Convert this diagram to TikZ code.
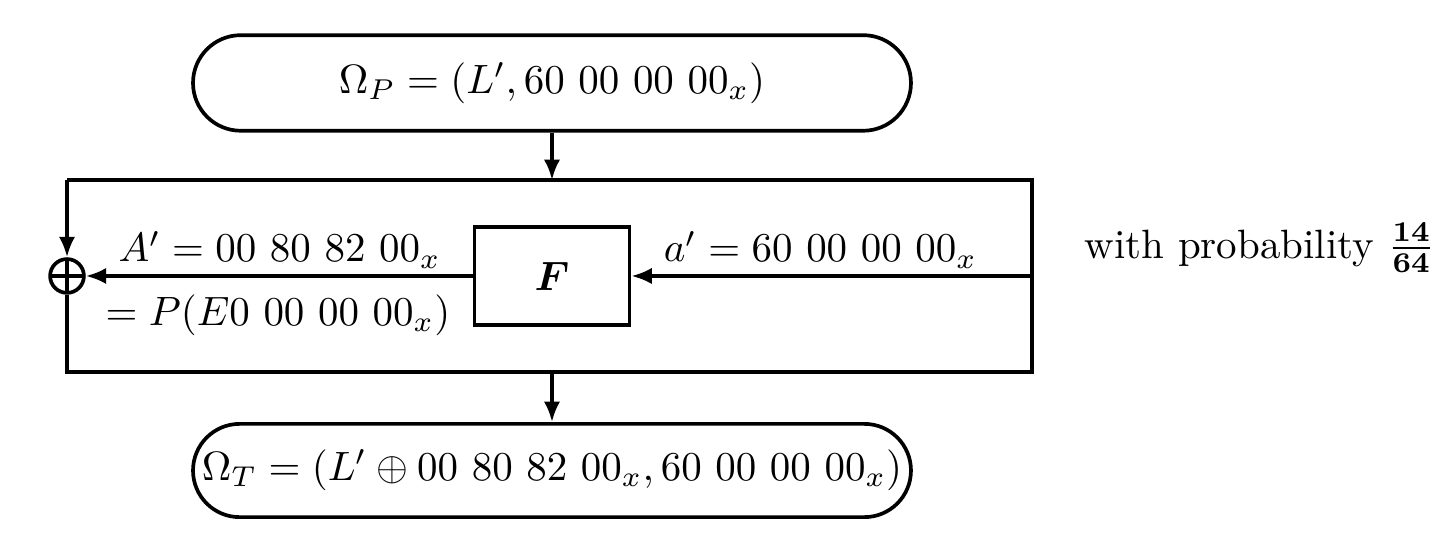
\documentclass[tikz,border=0pt]{standalone}
\usepackage{amsmath, amssymb}
\usetikzlibrary{arrows.meta}

\begin{document}
\begin{tikzpicture}
	\tikzstyle{stateStyle}=[draw, line width = 0.9pt, rectangle, rounded corners = 0.41cm, minimum width = 6.16cm, minimum height = 0.82cm, inner sep = 0pt]
	\tikzstyle{roundStyle}=[draw, line width = 0.9pt, rectangle, minimum width = 1.33cm, minimum height = 0.84cm]
	\tikzstyle{xorStyle}=[draw, line width = 0.9pt, circle, minimum size = 0.29cm, inner sep = 0pt, path picture = {\draw[line width = 0.9pt] (path picture bounding box.north) -- (path picture bounding box.south) (path picture bounding box.west) -- (path picture bounding box.east);}]
	\tikzstyle{labelStyle}=[inner sep = 0pt, anchor = base]
	\tikzstyle{arrowStyle}=[line width = 0.9pt, -{Latex[length = 5pt, width = 4pt]}]
	\useasboundingbox (0,0) rectangle (12.355,4.582);
	% states
	\node[stateStyle] (omegaP) at (4.736, 3.870) {$\Omega_P = (L', 60\ 00\ 00\ 00_x)$};
	\node[stateStyle, minimum height = 0.80cm, rounded corners = 0.40cm] (omegaT) at (4.736, 0.545) {$\Omega_T = (L' \oplus 00\ 80\ 82\ 00_x, 60\ 00\ 00\ 00_x)$};
	% round
	\node[roundStyle] (F) at (4.736, 2.214) {$\boldsymbol{F}$};
	\node[xorStyle] (xor) at (0.575, 2.214) {};
	\coordinate (ftl) at (0.575, 3.037);
	\coordinate (fbl) at (0.575, 1.390);
	\coordinate (fbr) at (8.855, 1.390);
	\coordinate (ftr) at (8.855, 3.037);
	\coordinate (fin) at (8.855, 2.214);
	\coordinate (ftop) at (4.736, 3.037);
	\coordinate (fbot) at (4.736, 1.390);
	% labels
	\node[labelStyle] (Aout) at (2.40, 2.334) {$A' = 00\ 80\ 82\ 00_x$};
	\node[labelStyle] (Pout) at (2.385, 1.793) {$= P(E0\ 00\ 00\ 00_x)$};
	\node[labelStyle] (ain) at (7.04, 2.334) {$a' = 60\ 00\ 00\ 00_x$};
	\node[inner sep = 0pt, anchor = base west] (prob) at (9.30, 2.368) {with probability $\frac{\mathbf{14}}{\mathbf{64}}$};
	% edges
	\draw[line width = 0.9pt, line join = miter] (xor.south) -- (fbl) -- (fbr) -- (ftr) -- (ftl);
	\draw[arrowStyle] (ftl) -- (xor.north);
	\draw[arrowStyle] (omegaP) -- (ftop);
	\draw[arrowStyle] (fin) -- (F);
	\draw[arrowStyle] (F) -- (xor);
	\draw[arrowStyle] (fbot) -- (omegaT);
\end{tikzpicture}
\end{document}
